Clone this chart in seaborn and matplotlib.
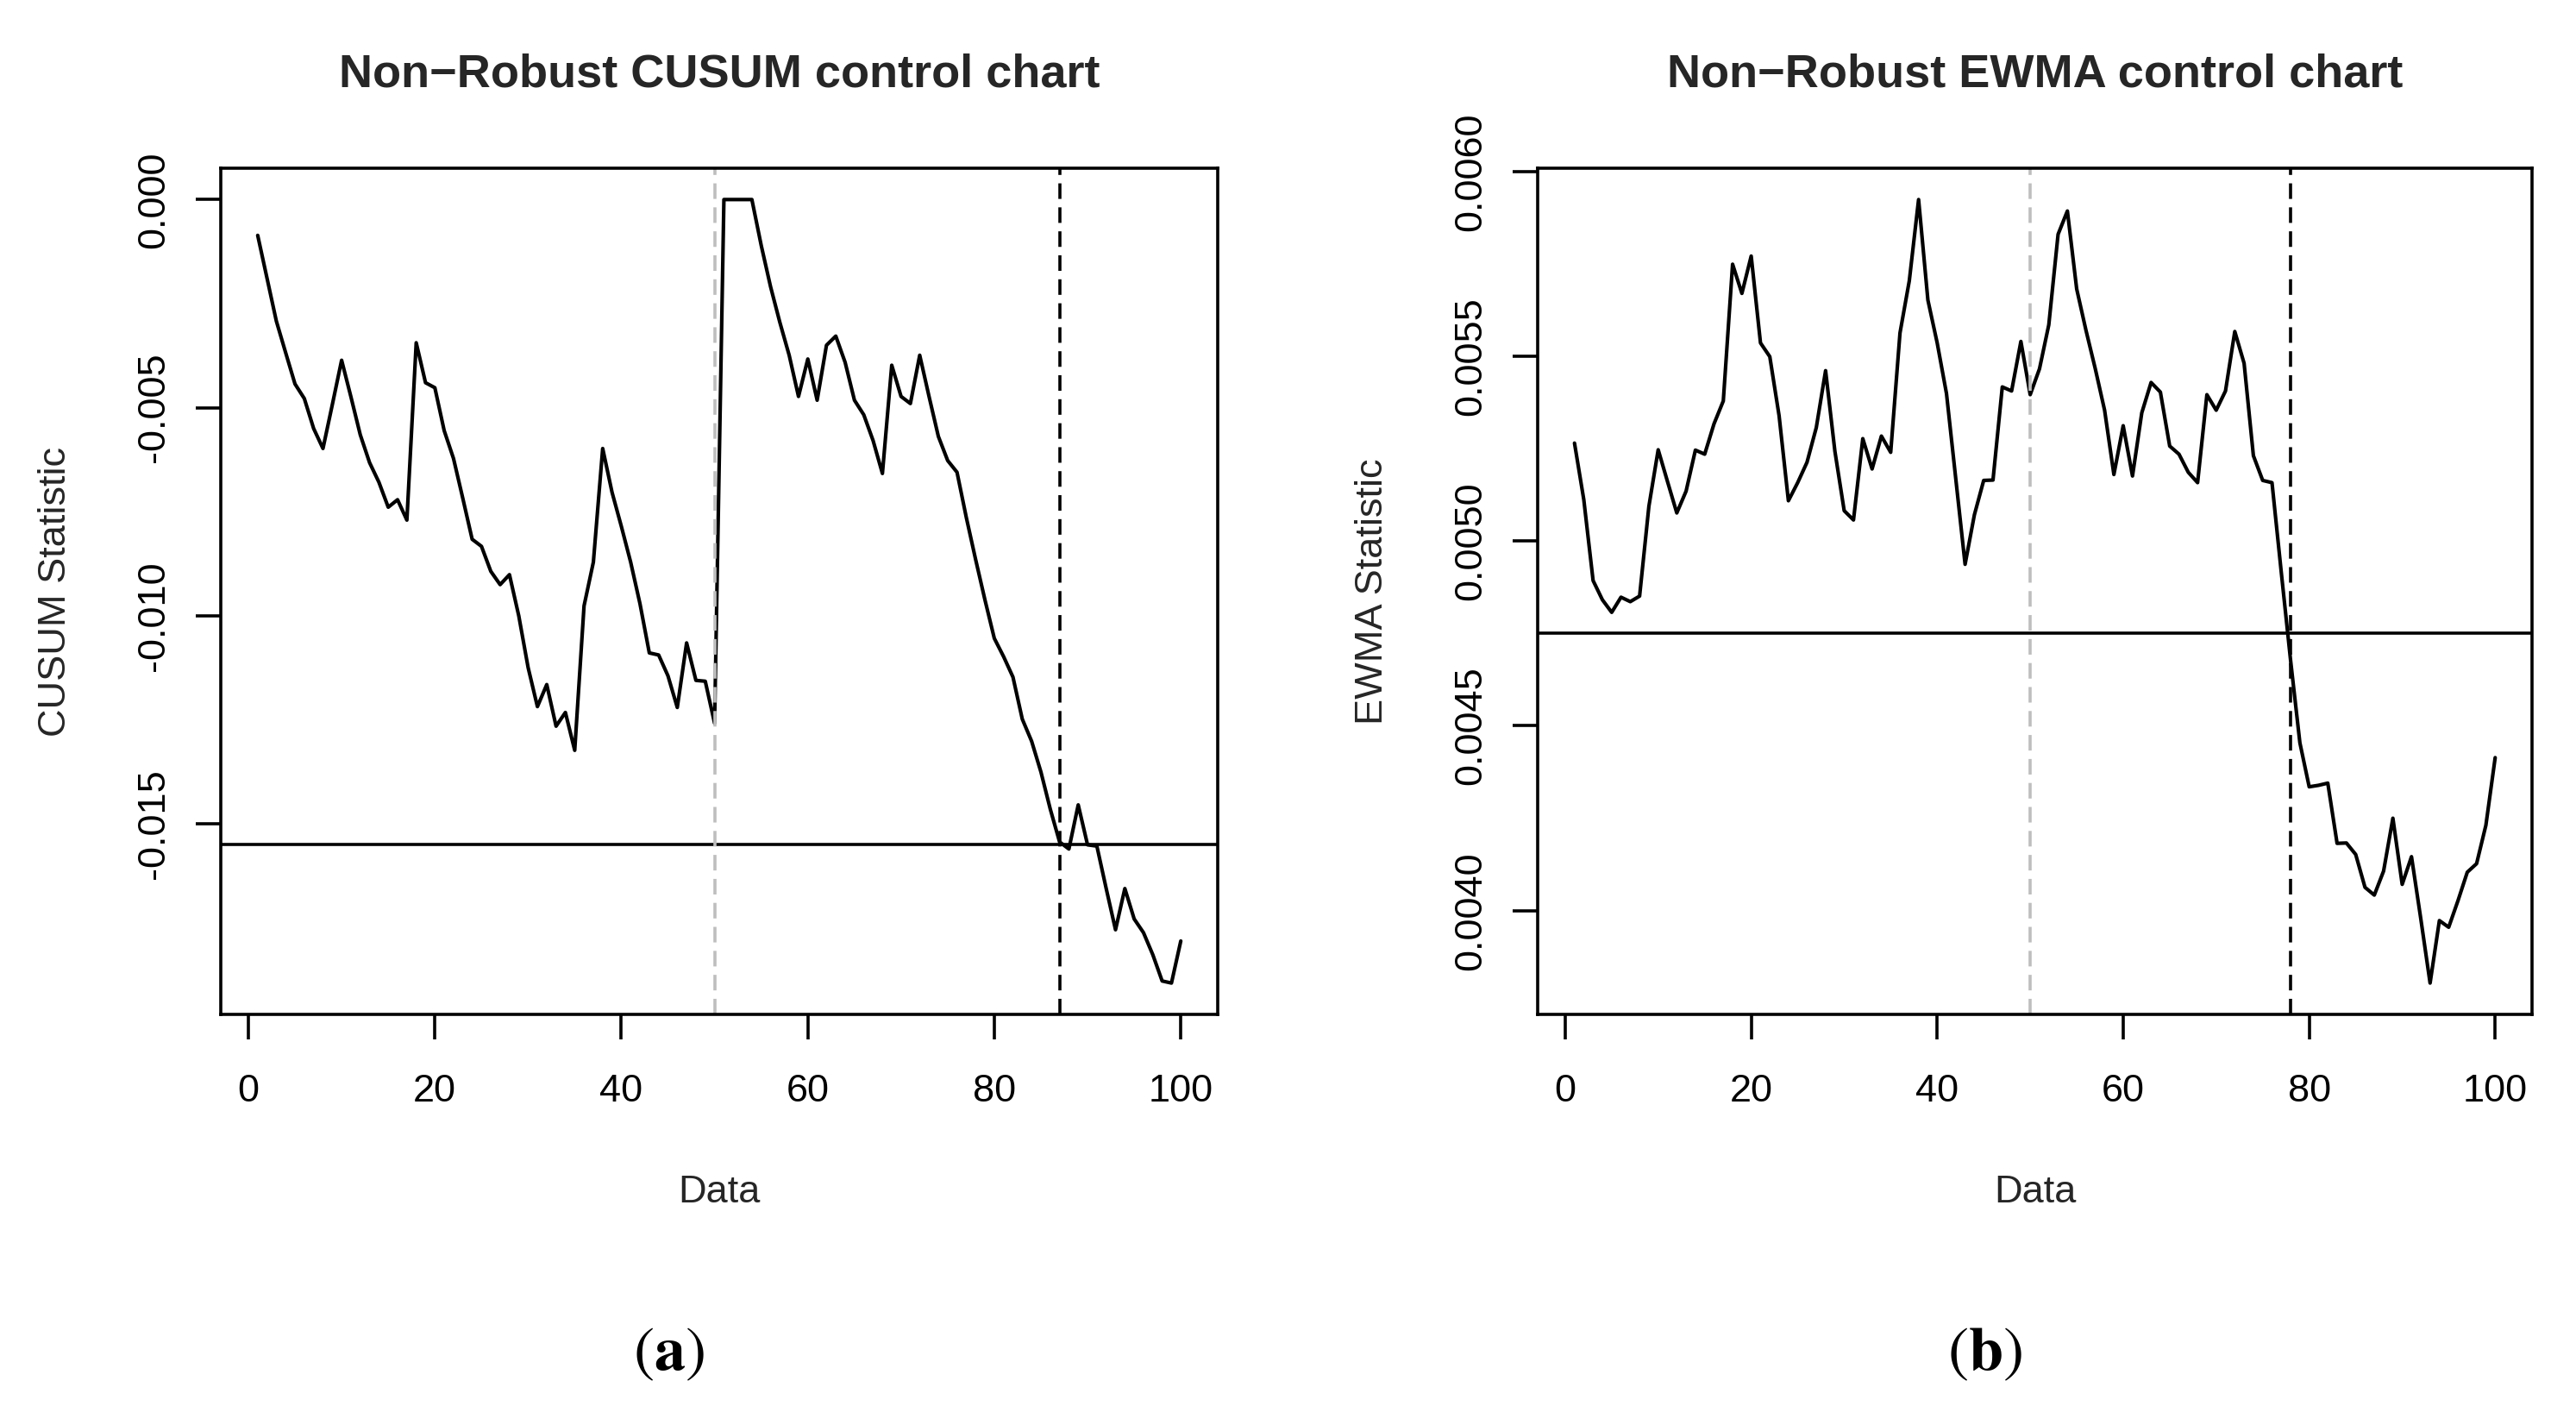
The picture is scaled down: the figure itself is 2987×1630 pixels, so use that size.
import numpy as np
import pandas as pd
import matplotlib
matplotlib.use("Agg")
import matplotlib.pyplot as plt
import seaborn as sns
from matplotlib.ticker import FixedLocator, FormatStrFormatter

# ---------------- data ----------------
obs = list(range(1, 101))

cusum_milli = [
    -0.86, -1.89, -2.92, -3.68, -4.43, -4.78, -5.50, -5.98, -4.93, -3.86,
    -4.74, -5.65, -6.32, -6.79, -7.39, -7.21, -7.70, -3.44, -4.40, -4.52,
    -5.55, -6.22, -7.18, -8.16, -8.33, -8.93, -9.25, -9.01, -10.00, -11.24,
    -12.18, -11.65, -12.65, -12.32, -13.23, -9.76, -8.71, -5.98, -7.03, -7.85,
    -8.71, -9.71, -10.89, -10.94, -11.44, -12.20, -10.65, -11.55, -11.57, -12.58,
    0.0, 0.0, 0.0, 0.0, -1.10, -2.09, -2.95, -3.74, -4.73, -3.83,
    -4.82, -3.50, -3.28, -3.91, -4.82, -5.17, -5.79, -6.58, -3.98, -4.73,
    -4.90, -3.74, -4.73, -5.69, -6.27, -6.55, -7.64, -8.65, -9.62, -10.54,
    -10.98, -11.47, -12.48, -13.01, -13.75, -14.64, -15.43, -15.60, -14.54, -15.50,
    -15.53, -16.55, -17.54, -16.55, -17.28, -17.61, -18.14, -18.77, -18.82, -17.81,
]

ewma_milli = [
    5.265, 5.112, 4.893, 4.841, 4.807, 4.848, 4.836, 4.851, 5.094, 5.247,
    5.161, 5.076, 5.135, 5.246, 5.235, 5.317, 5.379, 5.749, 5.670, 5.771,
    5.536, 5.499, 5.339, 5.109, 5.158, 5.213, 5.307, 5.461, 5.243, 5.082,
    5.057, 5.277, 5.195, 5.284, 5.240, 5.563, 5.704, 5.924, 5.652, 5.536,
    5.399, 5.168, 4.937, 5.071, 5.164, 5.165, 5.417, 5.406, 5.540, 5.396,
    5.466, 5.585, 5.830, 5.893, 5.682, 5.570, 5.466, 5.354, 5.180, 5.312,
    5.176, 5.347, 5.429, 5.403, 5.257, 5.235, 5.186, 5.158, 5.396, 5.354,
    5.406, 5.567, 5.481, 5.231, 5.164, 5.158, 4.915, 4.677, 4.454, 4.335,
    4.339, 4.345, 4.182, 4.183, 4.152, 4.063, 4.042, 4.107, 4.250, 4.071,
    4.146, 3.978, 3.804, 3.973, 3.955, 4.027, 4.104, 4.127, 4.231, 4.414,
]

cusum_limit = -0.0155
ewma_limit = 0.00475
change_point = 50
cusum_signal = 87
ewma_signal = 78

cusum_yticks = [0.0, -0.005, -0.010, -0.015]
ewma_yticks = [0.0040, 0.0045, 0.0050, 0.0055, 0.0060]
xticks = [0, 20, 40, 60, 80, 100]

titles = ["Non\u2212Robust CUSUM control chart", "Non\u2212Robust EWMA control chart"]
ylabels = ["CUSUM Statistic", "EWMA Statistic"]
panel_labels = ["a", "b"]

# ---------------- style ----------------
sns.set_theme(style="white")
plt.rcParams["font.family"] = ["Liberation Sans", "DejaVu Sans"]
plt.rcParams["mathtext.fontset"] = "stix"

W, H = 2987, 1630
fig = plt.figure(figsize=(W / 100, H / 100), dpi=100)

LW_DATA = 3.0
LW = 2.6
TICK_FS = 32.5
TITLE_FS = 39

ax_rects = [
    (256 / W, 1 - 1176 / H, (1412 - 256) / W, (1176 - 195) / H),
    (1783 / W, 1 - 1176 / H, (2936 - 1783) / W, (1176 - 195) / H),
]

datasets = [
    (np.array(cusum_milli) * 1e-3, cusum_limit, cusum_signal, cusum_yticks, "%.3f"),
    (np.array(ewma_milli) * 1e-3, ewma_limit, ewma_signal, ewma_yticks, "%.4f"),
]

for k, (rect, (vals, limit, sig, yt, fmt)) in enumerate(zip(ax_rects, datasets)):
    ax = fig.add_axes(rect)
    df = pd.DataFrame({"Data": obs, "stat": vals})
    sns.lineplot(data=df, x="Data", y="stat", ax=ax, color="black",
                 linewidth=LW_DATA, estimator=None, sort=False)
    ax.axhline(limit, color="black", linewidth=LW)
    ax.axvline(change_point, color="#BEBEBE", linewidth=LW, dashes=(5, 2.7))
    ax.axvline(sig, color="black", linewidth=LW, dashes=(5, 2.7))

    # R-style 4% axis extension
    x0, x1 = min(obs), max(obs)
    dx = (x1 - x0) * 0.04
    ax.set_xlim(x0 - dx, x1 + dx)
    y0, y1 = vals.min(), vals.max()
    dy = (y1 - y0) * 0.04
    ax.set_ylim(y0 - dy, y1 + dy)

    ax.xaxis.set_major_locator(FixedLocator(xticks))
    ax.yaxis.set_major_locator(FixedLocator(yt))
    ax.yaxis.set_major_formatter(FormatStrFormatter(fmt))

    for sp in ax.spines.values():
        sp.set_visible(True)
        sp.set_color("black")
        sp.set_linewidth(LW)

    ax.tick_params(axis="both", direction="out", length=20.9, width=LW,
                   color="black", labelsize=TICK_FS, labelcolor="black",
                   bottom=True, left=True, top=False, right=False)
    ax.tick_params(axis="x", pad=29)
    ax.tick_params(axis="y", pad=20)
    for lab in ax.get_yticklabels():
        lab.set_rotation(90)
        lab.set_va("center")

    ax.set_title(titles[k], fontsize=TITLE_FS, fontweight="bold", pad=67.7)
    ax.set_xlabel("Data", fontsize=TICK_FS)
    ax.set_ylabel(ylabels[k], fontsize=TICK_FS)
    ax.xaxis.set_label_coords(0.5, -0.19)
    ax.yaxis.set_label_coords(-0.148, 0.5)
    ax.grid(False)
    ax.set_facecolor("white")

# panel labels (a), (b)
for xc, lab in zip([775 / W, 2301 / W], panel_labels):
    fig.text(xc, 1 - 1572 / H, "($\\mathbf{" + lab + "}$)", ha="center", va="center",
             fontsize=52, family="STIXGeneral", color="black")

fig.savefig("out.png", dpi=100, facecolor="white")
